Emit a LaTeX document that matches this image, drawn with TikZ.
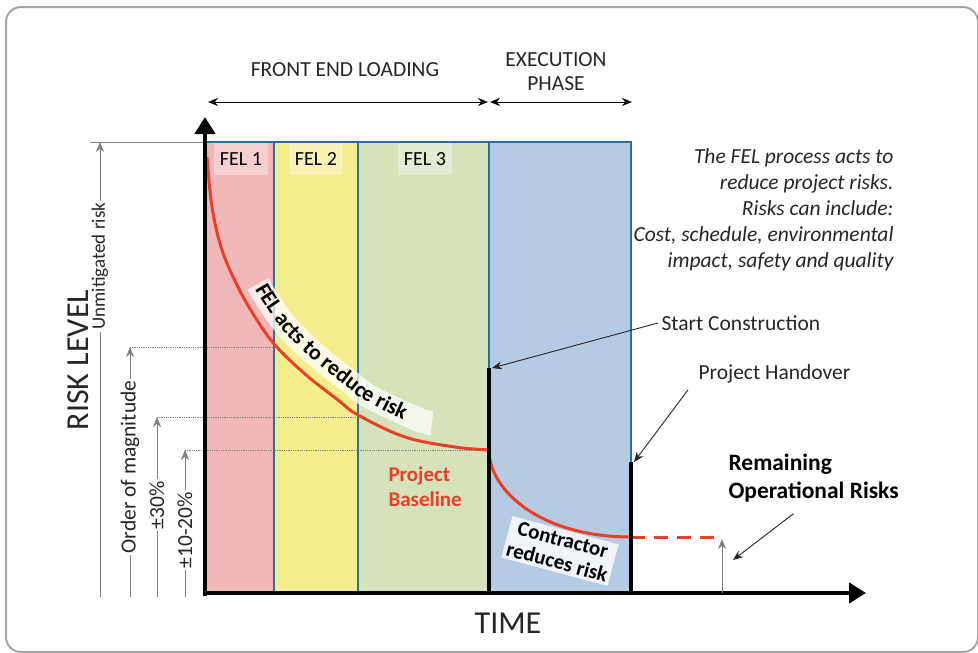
\documentclass[tikz,border=0pt]{standalone}
\usepackage{fontspec}
\setmainfont{Carlito}
\usetikzlibrary{arrows.meta,decorations.text}

\definecolor{felpink}{RGB}{242,184,184}
\definecolor{felyellow}{RGB}{245,238,142}
\definecolor{felgreen}{RGB}{213,226,186}
\definecolor{execblue}{RGB}{180,203,226}
\definecolor{phaseline}{RGB}{46,108,160}
\definecolor{riskred}{RGB}{235,64,40}
\definecolor{inkgray}{RGB}{38,38,38}

\begin{document}
\begin{tikzpicture}[x=1pt,y=-1pt,>={Stealth[length=10pt,width=8pt]},
  phase/.style={draw=phaseline,line width=1.3pt},
  tag/.style={fill=white,fill opacity=0.35,text opacity=1,minimum width=54pt,minimum height=32pt,font=\fontsize{20}{20}\selectfont},
  axis/.style={line width=4.5pt,-{Triangle[length=17pt,width=20pt]}},
  guide/.style={gray,line width=0.8pt},
  level/.style={guide,densely dotted},
  gtext/.style={fill=white,rotate=90,inner sep=2pt,text=inkgray,font=\fontsize{21.5}{21.5}\selectfont},
  pointer/.style={->,line width=0.9pt,inkgray},
  riskcurve/.style={riskred,line width=3pt},
  band/.style={white,opacity=0.75,line width=24pt},
  txt/.style={text=inkgray,font=\fontsize{21.5}{24}\selectfont}]

\useasboundingbox (0,0) rectangle (978,653);
\draw[gray!70,line width=2pt,rounded corners=15pt] (6,7) rectangle (978,652);

% phases
\foreach \a/\b/\c in {205/274/felpink,274/358/felyellow,358/489/felgreen,489/631/execblue}
  \filldraw[phase,fill=\c] (\a,142) rectangle (\b,593);
\node[tag] (fel1) at (241,159) {FEL 1};
\node[tag] (fel2) at (316,159) {FEL 2};
\node[tag] (fel3) at (425,159) {FEL 3};

\coordinate (fs) at (208,102);
\coordinate (fe) at (488,102);
\coordinate (es) at (490,102);
\coordinate (ee) at (632,102);
\draw[<->,line width=1pt] (fs) -- (fe);
\draw[<->,line width=1pt] (es) -- (ee);
\node[txt] (frontend) at (345,70) {FRONT END LOADING};
\node[txt,align=center] (exec) at (556,72) {EXECUTION\\PHASE};

% risk levels
\draw[guide] (90,142) -- (205,142);
\draw[level] (130,347) -- (277,347);
\draw[level] (157,417) -- (358,417);
\draw[level] (185,450) -- (489,450);
\draw[guide,->] (100,597) -- node[gtext,pos=0.727,font=\fontsize{19}{19}\selectfont] (unmit) {Unmitigated risk} (100,142);
\draw[guide,->] (130,597) -- node[gtext,pos=0.52] (order) {Order of magnitude} (130,347);
\draw[guide,->] (157,597) -- node[gtext,pos=0.51] (thirty) {±30\%} (157,417);
\draw[guide,->] (185,597) -- node[gtext,pos=0.456] (ten) {±10-20\%} (185,450);
\node[txt,rotate=90,font=\fontsize{32}{32}\selectfont] (risklevel) at (78,360) {RISK LEVEL};

% curves
\draw[band] plot[smooth] coordinates {(258,284) (267,299) (287,327) (317,356) (350,382) (370,397) (417,419) (432,423)};
\draw[riskcurve] plot[smooth,tension=0.6] coordinates {(207,157) (212,207) (222,250) (238,287) (255,317) (275,345)
  (305,374) (338,400) (358,415) (405,437) (455,447) (489,450)};
\path[decorate,decoration={text along path,text align={left indent=0pt},
  text={|\bfseries\fontsize{22}{22}\selectfont|FEL acts to reduce risk}}]
  plot[smooth] coordinates {(255,289) (264,304) (284,332) (314,361) (347,387) (367,402) (414,424) (464,434)};
\node[fill=white,fill opacity=0.8,text opacity=1,rotate=-15,align=center,inner sep=3pt,
  font=\bfseries\fontsize{21}{23}\selectfont] (contr) at (560,551) {Contractor\\reduces risk};
\draw[riskcurve] (489,450) .. controls (489,490) and (540,537) .. (631,537);
\draw[riskcurve,dash pattern=on 14pt off 9pt] (631,537) -- (722,537);
\node[anchor=west,align=left,text=riskred,font=\bfseries\fontsize{21}{25}\selectfont] (base) at (385,487) {Project\\Baseline};

% milestones
\coordinate (sc) at (489,368);
\coordinate (ph) at (631,462);
\coordinate (rr) at (722,539);
\draw[line width=4.5pt] (sc) -- (489,595);
\draw[line width=4.5pt] (ph) -- (631,595);
\draw[axis] (205,596) -- (205,117);
\draw[axis] (203,593) -- (866,593);
\draw[guide,->,line width=1pt] (722,593) -- (rr);

\node[txt,anchor=west] (start) at (658,323) {Start Construction};
\node[txt,anchor=west] (handover) at (695,374) {Project Handover};
\node[txt,anchor=west,align=left,text=black,font=\bfseries\fontsize{23.5}{28}\selectfont] (remain) at (725,478) {Remaining\\Operational Risks};
\draw[pointer] (start.west) -- ([xshift=3pt]sc);
\draw[pointer] ([xshift=-7pt,yshift=-3pt]handover.south west) -- ([xshift=3pt]ph);
\draw[pointer] ([xshift=-20pt,yshift=-8pt]remain.south) -- ([xshift=11pt,yshift=-21pt]rr);

\node[txt,anchor=east,align=right,font=\itshape\fontsize{21.5}{26}\selectfont] (note) at (897,210)
  {The FEL process acts to\\reduce project risks.\\Risks can include:\\Cost, schedule, environmental\\impact, safety and quality};
\node[txt,font=\fontsize{32}{32}\selectfont] (time) at (508,623) {TIME};
\end{tikzpicture}
\end{document}
